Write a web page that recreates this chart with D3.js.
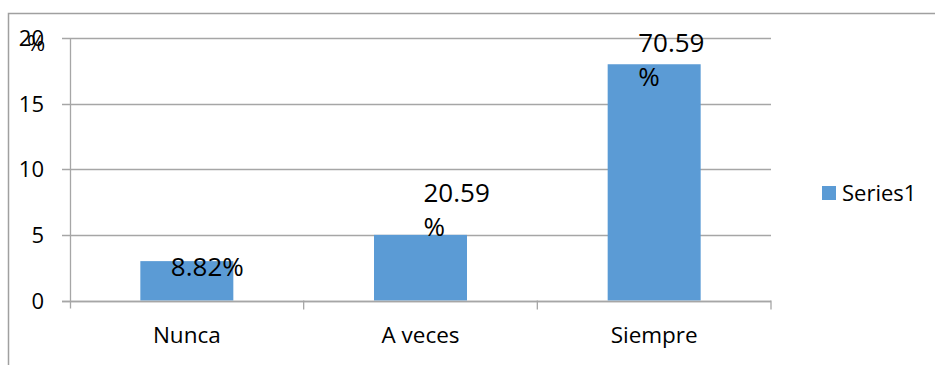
<!DOCTYPE html>
<html>
<head>
<meta charset="utf-8">
<script src="https://cdn.jsdelivr.net/npm/d3@7"></script>
<style>
  html, body { margin: 0; padding: 0; background: #fff; }
  svg { display: block; font-family: "Open Sans", "Liberation Sans", sans-serif; }
</style>
</head>
<body>
<svg id="chart" width="935" height="365"></svg>
<script>
// ---- data ----
const categories = ["Nunca", "A veces", "Siempre"];
const values = [3, 5, 18];
const pctLabels = ["8.82%", "20.59%", "70.59%"];
const labelWrap = [false, true, true];
const yTicks = [0, 5, 10, 15, 20];
const seriesName = "Series1";
const axisTitle = "%";

// label nudges relative to bar top-centre (manual placement in original)
const labelNudge = [[-16, 15], [3, 1], [-16, 22]];

// ---- layout ----
const svg = d3.select("#chart");
const plot = { left: 70, right: 771, top: 38, bottom: 300.5 };
const barColor = "#5b9bd5";
const gridColor = "#a6a6a6";

const x = d3.scaleBand().domain(categories).range([plot.left, plot.right])
  .paddingInner(0.602).paddingOuter(0.301);
const y = d3.scaleLinear().domain([0, 20]).range([plot.bottom, plot.top]);
const cx = c => x(c) + x.bandwidth() / 2;

// outer (cropped) chart border: top and left edges only visible
svg.append("path")
  .attr("d", "M8.5,365 V13.5 H935")
  .attr("fill", "none").attr("stroke", "#a0a0a0").attr("stroke-width", 1.5);

// gridlines
svg.append("g").selectAll("line").data(yTicks).join("line")
  .attr("x1", plot.left - 8).attr("x2", plot.right)
  .attr("y1", d => Math.round(y(d)) + 0.5).attr("y2", d => Math.round(y(d)) + 0.5)
  .attr("stroke", gridColor).attr("stroke-width", 1.3);

// y axis line
svg.append("line")
  .attr("x1", plot.left + 0.5).attr("x2", plot.left + 0.5)
  .attr("y1", plot.top).attr("y2", plot.bottom + 8)
  .attr("stroke", gridColor).attr("stroke-width", 1.3);

// category boundary tick marks
svg.append("g").selectAll("line").data(categories).join("line")
  .attr("x1", c => cx(c) + x.step() / 2).attr("x2", c => cx(c) + x.step() / 2)
  .attr("y1", plot.bottom).attr("y2", plot.bottom + 9)
  .attr("stroke", gridColor).attr("stroke-width", 1.3);

// y tick labels
svg.append("g").selectAll("text").data(yTicks).join("text")
  .attr("x", 44).attr("y", d => y(d) + 8)
  .attr("text-anchor", "end")
  .attr("font-size", 22).attr("fill", "#000")
  .text(d => d);

// axis title overlapping the top tick (as in the original)
svg.append("text")
  .attr("x", 27).attr("y", y(20) + 13)
  .attr("font-size", 22).attr("fill", "#000")
  .text(axisTitle);

// bars
svg.append("g").selectAll("rect").data(categories).join("rect")
  .attr("x", c => x(c))
  .attr("width", x.bandwidth())
  .attr("y", (c, i) => y(values[i]))
  .attr("height", (c, i) => y(0) - y(values[i]))
  .attr("fill", barColor);

// redraw zero line on top
svg.append("line")
  .attr("x1", plot.left - 8).attr("x2", plot.right)
  .attr("y1", Math.round(y(0)) + 0.5).attr("y2", Math.round(y(0)) + 0.5)
  .attr("stroke", gridColor).attr("stroke-width", 1.3);

// category labels
svg.append("g").selectAll("text").data(categories).join("text")
  .attr("x", c => cx(c)).attr("y", 343)
  .attr("text-anchor", "middle")
  .attr("font-size", 22.5).attr("fill", "#000")
  .text(c => c);

// data labels
categories.forEach((c, i) => {
  const bx = cx(c) + labelNudge[i][0];
  const by = y(values[i]) + labelNudge[i][1];
  const t = svg.append("text")
    .attr("font-size", 26).attr("fill", "#000");
  if (labelWrap[i]) {
    const main = pctLabels[i].replace("%", "");
    t.append("tspan").attr("x", bx).attr("y", by - 34).text(main);
    t.append("tspan").attr("x", bx).attr("y", by).text("%");
  } else {
    t.attr("x", bx).attr("y", by).text(pctLabels[i]);
  }
});

// legend
const lg = svg.append("g");
lg.append("rect").attr("x", 822).attr("y", 186).attr("width", 14).attr("height", 14).attr("fill", barColor);
lg.append("text").attr("x", 842).attr("y", 201).attr("font-size", 22).attr("fill", "#000").text(seriesName);
</script>
</body>
</html>
